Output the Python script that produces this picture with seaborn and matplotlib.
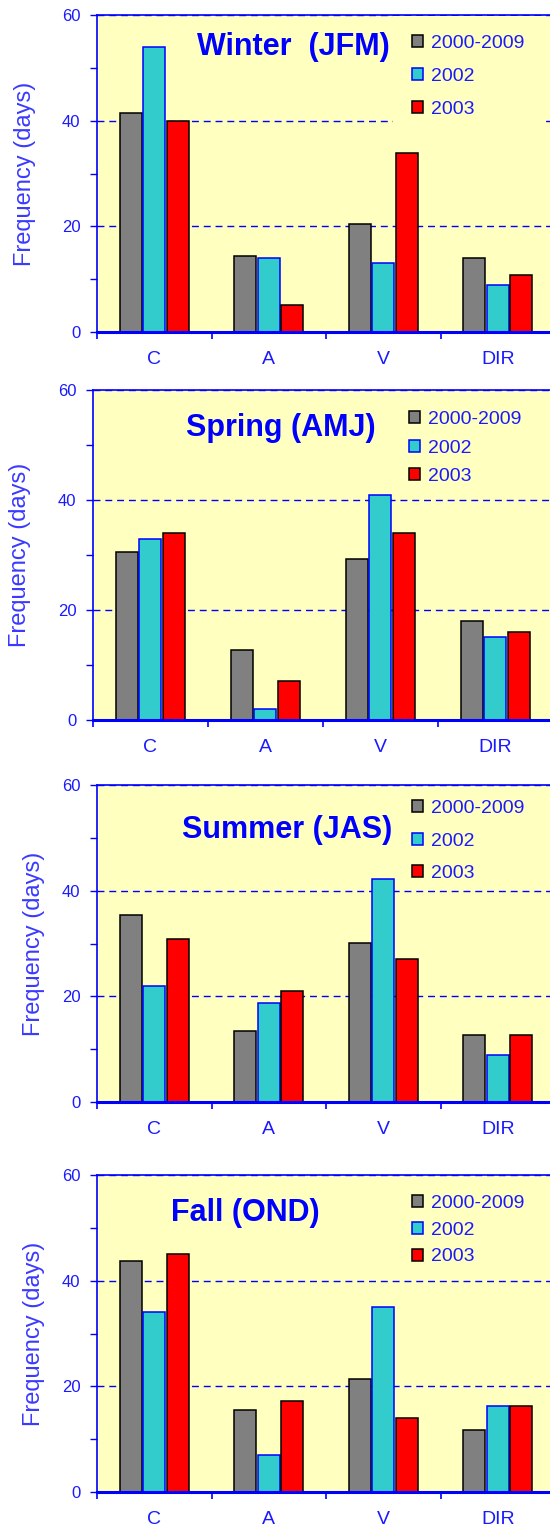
import pandas as pd
import seaborn as sns
import matplotlib.pyplot as plt
from matplotlib.patches import Patch

# categories and series
categories = ['C', 'A', 'V', 'DIR']
periods = ['2000-2009', '2002', '2003']

winter_clim = [41.5, 14.3, 20.4, 14.0]
winter_2002 = [54.0, 14.0, 13.1, 8.9]
winter_2003 = [40.0, 5.1, 33.8, 10.8]

spring_clim = [30.5, 12.7, 29.3, 18.0]
spring_2002 = [33.0, 2.0, 41.0, 15.0]
spring_2003 = [34.0, 7.0, 34.0, 16.0]

summer_clim = [35.4, 13.4, 30.1, 12.7]
summer_2002 = [22.0, 18.8, 42.2, 8.9]
summer_2003 = [30.9, 21.0, 27.1, 12.7]

fall_clim = [43.7, 15.6, 21.4, 11.7]
fall_2002 = [34.1, 7.0, 35.1, 16.2]
fall_2003 = [45.0, 17.2, 14.0, 16.2]

seasons = ['Winter  (JFM)', 'Spring (AMJ)', 'Summer (JAS)', 'Fall (OND)']
season_data = [
    (winter_clim, winter_2002, winter_2003),
    (spring_clim, spring_2002, spring_2003),
    (summer_clim, summer_2002, summer_2003),
    (fall_clim, fall_2002, fall_2003),
]

colors = ['#808080', '#33CCCC', '#FF0000']
edges = ['black', '#0000FF', 'black']
BLUE = '#0000FF'
FACE = '#FFFFC0'

sns.set_style("ticks")
plt.rcParams['font.family'] = ['Liberation Sans', 'DejaVu Sans']

W, H = 550, 1526
fig = plt.figure(figsize=(W / 100, H / 100), dpi=100)

# panel geometry in pixels: left spine x, top y, bottom y, category width
panels = [
    (97, 15, 332, 114.5),
    (93, 390, 720, 114.9),
    (97, 785, 1102, 114.5),
    (97, 1175, 1492, 114.5),
]
title_pos = [(0.433, 0.90), (0.41, 0.885), (0.42, 0.858), (0.328, 0.88)]
legend_pos = [(0.653, 0.998), (0.675, 0.960), (0.679, 0.9765), (0.679, 0.9615)]
legend_spacing = [0.81, 0.6, 0.8, 0.5]
legend_pad = [1.0, 0.4, 0.4, 0.4]

for i, (name, vals) in enumerate(zip(seasons, season_data)):
    x0, top, bot, cw = panels[i]
    ax = fig.add_axes([x0 / W, 1 - bot / H, (W - x0) / W, (bot - top) / H])
    ax.set_facecolor(FACE)

    rows = []
    for p, series in zip(periods, vals):
        for c, v in zip(categories, series):
            rows.append({'type': c, 'days': v, 'period': p})
    df = pd.DataFrame(rows)

    sns.barplot(data=df, x='type', y='days', hue='period', order=categories,
                hue_order=periods, palette=colors, saturation=1, width=0.615,
                gap=0.07, errorbar=None, edgecolor='black', linewidth=1.1,
                legend=False, ax=ax)
    for k, cont in enumerate(ax.containers):
        for bar in cont:
            bar.set_edgecolor(edges[k])

    ax.set_xlim(-0.5, -0.5 + (W - x0) / cw)
    ax.set_ylim(0, 60)
    ax.set_yticks([0, 20, 40, 60])
    ax.set_yticks([10, 30, 50], minor=True)
    ax.set_xticks([-0.5, 0.5, 1.5, 2.5], minor=True)
    ax.tick_params(axis='x', which='major', length=0, pad=14, labelsize=14,
                   labelcolor='#1a1aff')
    ax.tick_params(axis='x', which='minor', length=5, width=1.2, color=BLUE,
                   direction='out')
    ax.tick_params(axis='y', which='both', length=5, width=1.0, color=BLUE,
                   direction='out', pad=7, labelsize=12, labelcolor='#1a1aff')

    ax.set_xlabel('')
    ax.set_ylabel('Frequency (days)', fontsize=17, color='#3a3aff')
    ax.yaxis.set_label_coords(-0.135 if i < 2 else -0.115, 0.5)

    ax.grid(axis='y', which='major', color=BLUE, linewidth=1.0,
            linestyle=(0, (5, 3.5)))
    ax.set_axisbelow(True)

    ax.spines['right'].set_visible(False)
    ax.spines['left'].set_color(BLUE)
    ax.spines['left'].set_linewidth(1.2)
    ax.spines['top'].set_color(BLUE)
    ax.spines['top'].set_linewidth(1.2)
    ax.spines['bottom'].set_color(BLUE)
    ax.spines['bottom'].set_linewidth(2.2)

    ax.text(title_pos[i][0], title_pos[i][1], name, transform=ax.transAxes,
            ha='center', va='center', fontsize=22, fontweight='bold', color=BLUE)

    handles = [Patch(facecolor=c, edgecolor=e, linewidth=1.1)
               for c, e in zip(colors, edges)]
    leg = ax.legend(handles, periods, loc='upper left',
                    bbox_to_anchor=legend_pos[i], fontsize=14,
                    handlelength=0.57, handleheight=0.57, handletextpad=0.4,
                    borderpad=legend_pad[i], labelspacing=legend_spacing[i],
                    frameon=True, framealpha=1, fancybox=False, borderaxespad=0)
    leg.get_frame().set_facecolor(FACE)
    leg.get_frame().set_edgecolor('none')
    for t in leg.get_texts():
        t.set_color('#1a1aff')

fig.savefig('out.png', dpi=100)
